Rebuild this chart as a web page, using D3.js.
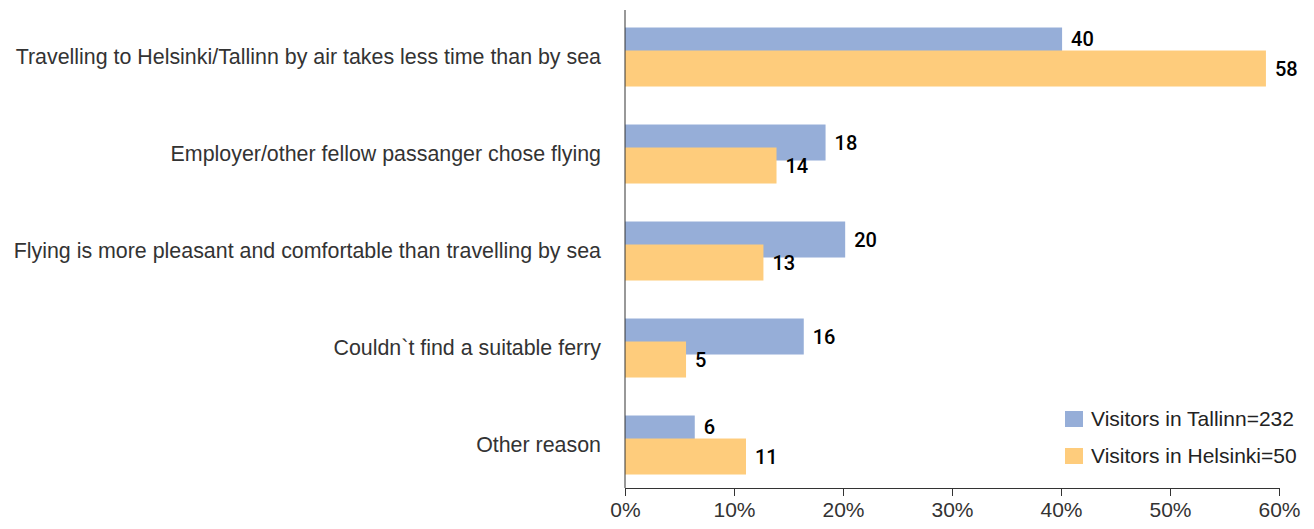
<!DOCTYPE html>
<html>
<head>
<meta charset="utf-8">
<script src="https://cdn.jsdelivr.net/npm/d3@7"></script>
<style>
    body { margin: 0; background: #fff; }
    text { font-family: "Liberation Sans", Arial, Helvetica, sans-serif; }
</style>
</head>
<body>
<svg id="chart"></svg>
<script>
const categories = [
    'Travelling to Helsinki/Tallinn by air takes less time than by sea',
    'Employer/other fellow passanger chose flying',
    'Flying is more pleasant and comfortable than travelling by sea',
    'Couldn`t find a suitable ferry',
    'Other reason'
];
const series_names = ['Visitors in Tallinn=232', 'Visitors in Helsinki=50'];
const tallinn = [40.1, 18.4, 20.2, 16.4, 6.4];
const helsinki = [58.8, 13.9, 12.7, 5.6, 11.1];
const tallinn_labels = ['40', '18', '20', '16', '6'];
const helsinki_labels = ['58', '14', '13', '5', '11'];
const x_ticks = [0, 10, 20, 30, 40, 50, 60];
const colors = ['#96aed8', '#fecc7c'];

class HBarChart {
    constructor (config) {
        this.config = {
            parent: config.parent,
            width: config.width || 1314,
            height: config.height || 529
        };
        this.init();
    }

    init() {
        let self = this;

        self.svg = d3.select(self.config.parent)
            .attr('width', self.config.width)
            .attr('height', self.config.height);

        self.x0 = 625;
        self.x1 = 1279;
        self.axis_y = 488;

        self.xscale = d3.scaleLinear()
            .domain([0, 60])
            .range([self.x0, self.x1]);

        // one band per reason, bars of the two groups overlap a bit
        self.yscale = d3.scaleBand()
            .domain(categories)
            .range([8.5, 493.5])
            .paddingInner(0.392)
            .paddingOuter(0.196);

        self.bar_h = 36;
        self.shift = 23;
    }

    render() {
        let self = this;
        const rows = categories.map((c, i) => ({
            cat: c, t: tallinn[i], h: helsinki[i],
            tl: tallinn_labels[i], hl: helsinki_labels[i]
        }));

        self.svg.selectAll('.bar-t')
            .data(rows)
            .join('rect')
            .attr('class', 'bar-t')
            .attr('x', self.xscale(0))
            .attr('y', d => self.yscale(d.cat))
            .attr('width', d => self.xscale(d.t) - self.xscale(0))
            .attr('height', self.bar_h)
            .attr('fill', colors[0]);

        self.svg.selectAll('.bar-h')
            .data(rows)
            .join('rect')
            .attr('class', 'bar-h')
            .attr('x', self.xscale(0))
            .attr('y', d => self.yscale(d.cat) + self.shift)
            .attr('width', d => self.xscale(d.h) - self.xscale(0))
            .attr('height', self.bar_h)
            .attr('fill', colors[1]);

        // value labels
        self.svg.selectAll('.lab-t')
            .data(rows)
            .join('text')
            .attr('class', 'lab-t')
            .attr('x', d => self.xscale(d.t) + 9)
            .attr('y', d => self.yscale(d.cat) + (d.h > d.t ? self.shift / 2 : self.bar_h / 2))
            .attr('dy', '0.36em')
            .style('font-size', '20px')
            .style('font-family', 'Roboto, "Liberation Sans", sans-serif')
            .style('font-weight', 500)
            .attr('fill', '#000')
            .text(d => d.tl);

        self.svg.selectAll('.lab-h')
            .data(rows)
            .join('text')
            .attr('class', 'lab-h')
            .attr('x', d => self.xscale(d.h) + 9)
            .attr('y', d => self.yscale(d.cat) + self.shift + self.bar_h / 2)
            .attr('dy', '0.36em')
            .style('font-size', '20px')
            .style('font-family', 'Roboto, "Liberation Sans", sans-serif')
            .style('font-weight', 500)
            .attr('fill', '#000')
            .text(d => d.hl);

        // category labels
        self.svg.selectAll('.cat')
            .data(categories)
            .join('text')
            .attr('class', 'cat')
            .attr('x', 601)
            .attr('y', d => self.yscale(d) + self.yscale.bandwidth() / 2)
            .attr('dy', '0.35em')
            .attr('text-anchor', 'end')
            .style('font-size', '21.4px')
            .attr('fill', '#333')
            .text(d => d);

        // axes
        self.svg.append('line')
            .attr('x1', self.x0).attr('x2', self.x0)
            .attr('y1', 10).attr('y2', self.axis_y)
            .attr('stroke', '#333');

        const xaxis = d3.axisBottom(self.xscale)
            .tickValues(x_ticks)
            .tickFormat(d => d + '%')
            .tickSize(8)
            .tickPadding(6)
            .tickSizeOuter(0);

        const g = self.svg.append('g')
            .attr('transform', `translate(0, ${self.axis_y})`)
            .call(xaxis);
        g.select('.domain').attr('stroke', '#333');
        g.selectAll('.tick line').attr('stroke', '#333');
        g.selectAll('.tick text')
            .style('font-size', '21px')
            .style('font-family', '"Liberation Sans", Arial, sans-serif')
            .attr('fill', '#333');

        // legend
        const legend = self.svg.selectAll('.legend')
            .data(series_names)
            .join('g')
            .attr('class', 'legend')
            .attr('transform', (d, i) => `translate(1065, ${411 + i * 37})`);
        legend.append('rect')
            .attr('width', 18).attr('height', 16)
            .attr('fill', (d, i) => colors[i]);
        legend.append('text')
            .attr('x', 26)
            .attr('y', 8)
            .attr('dy', '0.35em')
            .style('font-size', '21px')
            .attr('fill', '#222')
            .text(d => d);
    }
}

const chart = new HBarChart({ parent: '#chart', width: 1314, height: 529 });
chart.render();
</script>
</body>
</html>
